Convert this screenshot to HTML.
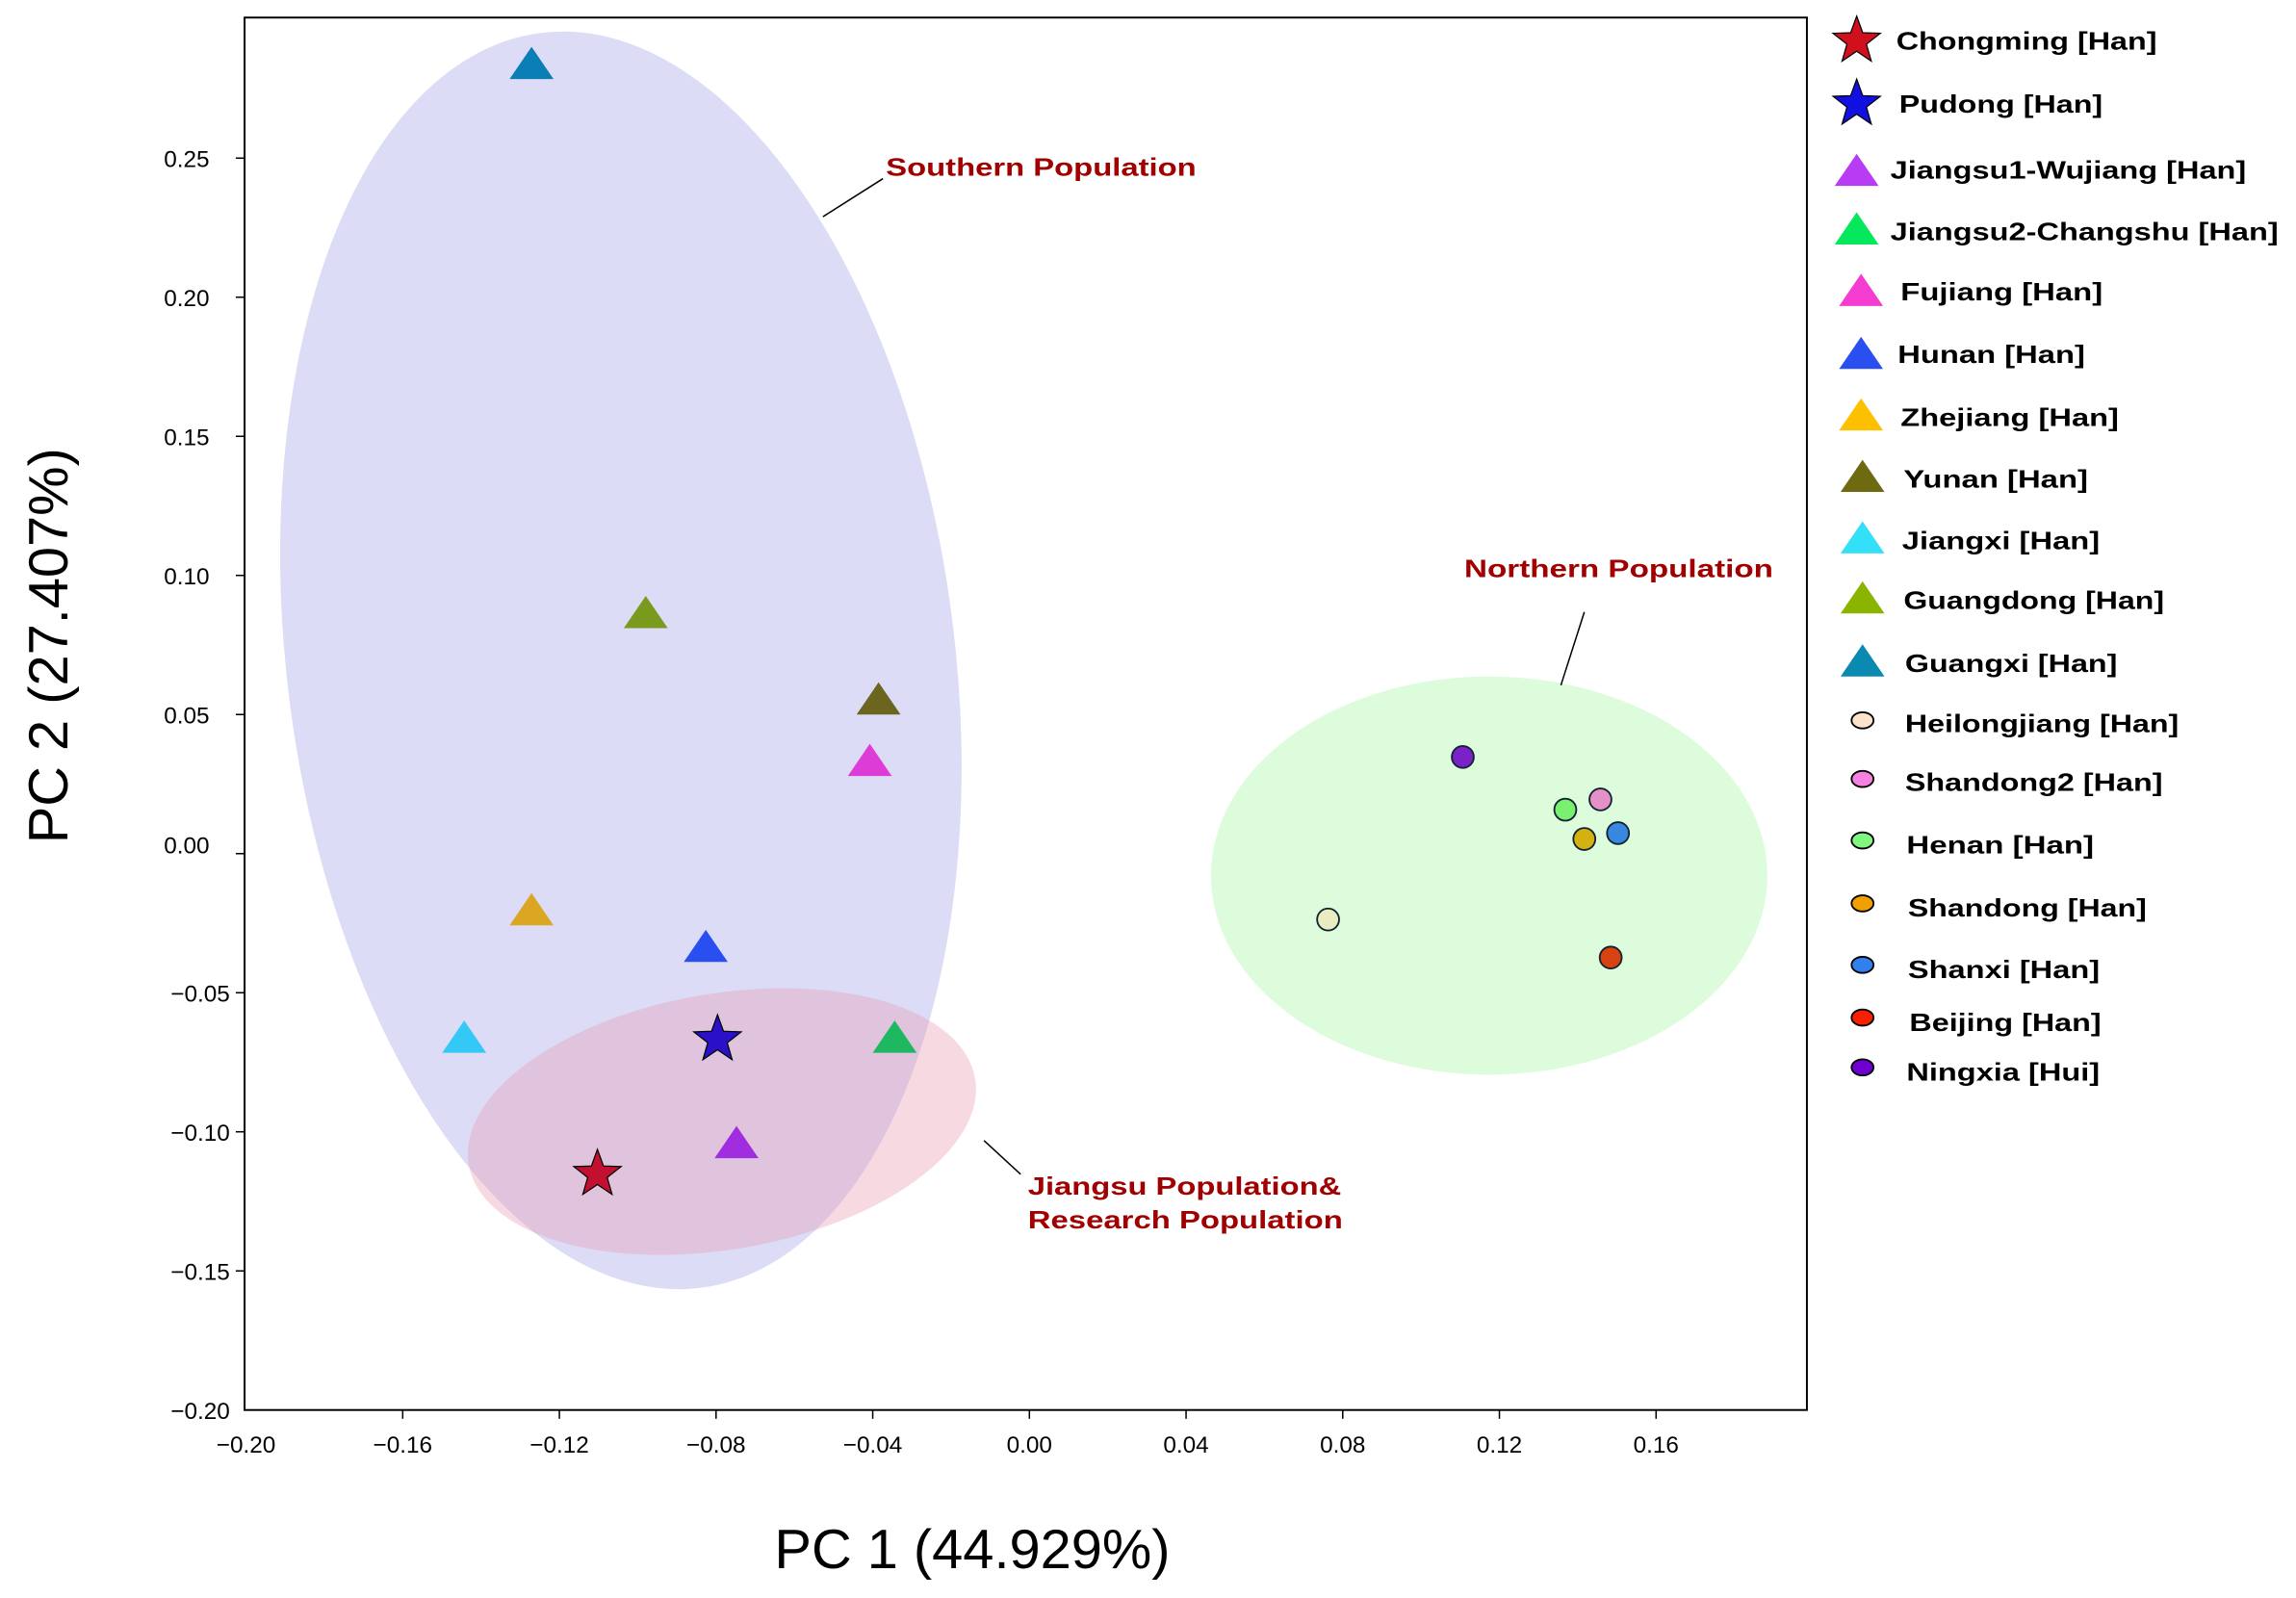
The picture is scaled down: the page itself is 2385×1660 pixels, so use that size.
<!DOCTYPE html>
<html><head><meta charset="utf-8"><style>
html,body{margin:0;padding:0;background:#fff}
svg{display:block}
text{font-family:"Liberation Sans",Arial,sans-serif}
.t{font-size:16px;fill:#000}
.lg{font-size:17px;font-weight:bold;fill:#000}
.an{font-size:17px;font-weight:bold;fill:#a00000}
</style></head><body>
<svg width="2385" height="1660" viewBox="0 0 1568 1091.4" xmlns="http://www.w3.org/2000/svg">
<defs>
<path id="star" d="M0,-17 L4.11,-5.66 16.17,-5.25 6.66,2.16 9.99,13.75 0,7 -9.99,13.75 -6.66,2.16 -16.17,-5.25 -4.11,-5.66 Z"/>
<path id="tri" d="M0,-11 L15,11 L-15,11 Z"/>
</defs>
<rect width="1568" height="1092" fill="#fff"/>
<ellipse cx="424" cy="451" rx="228" ry="432" transform="rotate(-7.3 424 451)" fill="#dcdcf7"/>
<ellipse cx="493" cy="766" rx="175.4" ry="87.4" transform="rotate(-9.65 493 766)" fill="rgb(232,150,170)" fill-opacity="0.35"/>
<ellipse cx="1017" cy="598" rx="190" ry="136" fill="#dcfcdc"/>
<rect x="167" y="12" width="1067" height="951" fill="none" stroke="#000" stroke-width="1.3"/>
<g stroke="#000" stroke-width="1">
<line x1="161" y1="108" x2="167" y2="108"/><line x1="161" y1="203" x2="167" y2="203"/>
<line x1="161" y1="298" x2="167" y2="298"/><line x1="161" y1="393" x2="167" y2="393"/>
<line x1="161" y1="488" x2="167" y2="488"/><line x1="161" y1="583" x2="167" y2="583"/>
<line x1="161" y1="678" x2="167" y2="678"/><line x1="161" y1="773" x2="167" y2="773"/>
<line x1="161" y1="868" x2="167" y2="868"/>
<line x1="275" y1="963" x2="275" y2="969"/><line x1="382" y1="963" x2="382" y2="969"/>
<line x1="489" y1="963" x2="489" y2="969"/><line x1="596" y1="963" x2="596" y2="969"/>
<line x1="703" y1="963" x2="703" y2="969"/><line x1="810" y1="963" x2="810" y2="969"/>
<line x1="917" y1="963" x2="917" y2="969"/><line x1="1024" y1="963" x2="1024" y2="969"/>
<line x1="1131" y1="963" x2="1131" y2="969"/>
</g>
<g class="t" text-anchor="end">
<text x="143" y="114">0.25</text><text x="143" y="209">0.20</text><text x="143" y="304">0.15</text>
<text x="143" y="399">0.10</text><text x="143" y="494">0.05</text><text x="143" y="583">0.00</text>
<text x="157" y="684">−0.05</text><text x="157" y="779">−0.10</text><text x="157" y="874">−0.15</text>
<text x="157" y="969">−0.20</text>
</g>
<g class="t" text-anchor="middle">
<text x="168" y="992">−0.20</text><text x="275" y="992">−0.16</text><text x="382" y="992">−0.12</text>
<text x="489" y="992">−0.08</text><text x="596" y="992">−0.04</text><text x="703" y="992">0.00</text>
<text x="810" y="992">0.04</text><text x="917" y="992">0.08</text><text x="1024" y="992">0.12</text>
<text x="1131" y="992">0.16</text>
</g>
<text x="664" y="1071" text-anchor="middle" font-size="38">PC 1 (44.929%)</text>
<text transform="translate(46 441) rotate(-90)" text-anchor="middle" font-size="38">PC 2 (27.407%)</text>
<g stroke="#000" stroke-width="1">
<line x1="562" y1="148" x2="603" y2="122"/>
<line x1="1082" y1="418" x2="1066" y2="468"/>
<line x1="672" y1="779" x2="697" y2="802"/>
</g>
<text class="an" x="605" y="120" textLength="212" lengthAdjust="spacingAndGlyphs">Southern Population</text>
<text class="an" x="1000" y="394" textLength="211" lengthAdjust="spacingAndGlyphs">Northern Population</text>
<text class="an" x="702" y="816" textLength="214" lengthAdjust="spacingAndGlyphs">Jiangsu Population&amp;</text>
<text class="an" x="702" y="839" textLength="215" lengthAdjust="spacingAndGlyphs">Research Population</text>
<use href="#tri" x="363" y="43" fill="#0a7fb5"/>
<use href="#tri" x="441" y="418" fill="#7a9a1e"/>
<use href="#tri" x="600" y="477" fill="#6b6520"/>
<use href="#tri" x="594" y="519" fill="#dd3dd6"/>
<use href="#tri" x="363" y="621" fill="#dba622"/>
<use href="#tri" x="482" y="646" fill="#2a4ff0"/>
<use href="#tri" x="317" y="708" fill="#33c8f5"/>
<use href="#tri" x="611" y="708" fill="#1db860"/>
<use href="#tri" x="503" y="780" fill="#a02ee0"/>
<use href="#star" x="490" y="710" fill="#2a11c8" stroke="#000" stroke-width="0.8"/>
<use href="#star" x="408" y="802" fill="#c2102f" stroke="#000" stroke-width="0.8"/>
<g stroke="#123" stroke-width="1.2">
<circle cx="999" cy="517" r="7.5" fill="#7b21c8"/>
<circle cx="1069" cy="553" r="7.5" fill="#78f070"/>
<circle cx="1093" cy="546" r="7.5" fill="#e690c8"/>
<circle cx="1105" cy="569" r="7.5" fill="#3888e0"/>
<circle cx="1082" cy="573" r="7.5" fill="#d4b010"/>
<circle cx="907" cy="628" r="7.5" fill="#e8ecc0"/>
<circle cx="1100" cy="654" r="7.5" fill="#d8420e"/>
</g>
<use href="#star" x="1268" y="28" fill="#d0101c" stroke="#000" stroke-width="0.8"/>
<use href="#star" x="1268" y="71" fill="#1010e0" stroke="#000" stroke-width="0.8"/>
<use href="#tri" x="1268" y="116" fill="#b83cf4"/>
<use href="#tri" x="1268" y="156" fill="#05e85c"/>
<use href="#tri" x="1271" y="198" fill="#f43cd0"/>
<use href="#tri" x="1271" y="241" fill="#2a4ff0"/>
<use href="#tri" x="1271" y="283" fill="#fcc000"/>
<use href="#tri" x="1272" y="325" fill="#6e6a10"/>
<use href="#tri" x="1272" y="367" fill="#33e0f8"/>
<use href="#tri" x="1272" y="408" fill="#8ab400"/>
<use href="#tri" x="1272" y="451" fill="#0a8ab0"/>
<g stroke="#000" stroke-width="1.2">
<ellipse cx="1272" cy="492" rx="7.5" ry="5.5" fill="#fde2cc"/>
<ellipse cx="1272" cy="532" rx="7.5" ry="5.5" fill="#f880e0"/>
<ellipse cx="1272" cy="574" rx="7.5" ry="5.5" fill="#80f880"/>
<ellipse cx="1272" cy="617" rx="7.5" ry="5.5" fill="#f0a000"/>
<ellipse cx="1272" cy="659" rx="7.5" ry="5.5" fill="#3080f0"/>
<ellipse cx="1272" cy="695" rx="7.5" ry="5.5" fill="#f82000"/>
<ellipse cx="1272" cy="729" rx="7.5" ry="5.5" fill="#7000d0"/>
</g>
<g class="lg">
<text x="1295" y="34" textLength="178" lengthAdjust="spacingAndGlyphs">Chongming [Han]</text>
<text x="1297" y="77" textLength="139" lengthAdjust="spacingAndGlyphs">Pudong [Han]</text>
<text x="1291" y="122" textLength="243" lengthAdjust="spacingAndGlyphs">Jiangsu1-Wujiang [Han]</text>
<text x="1291" y="164" textLength="265" lengthAdjust="spacingAndGlyphs">Jiangsu2-Changshu [Han]</text>
<text x="1298" y="205" textLength="138" lengthAdjust="spacingAndGlyphs">Fujiang [Han]</text>
<text x="1296" y="248" textLength="128" lengthAdjust="spacingAndGlyphs">Hunan [Han]</text>
<text x="1298" y="291" textLength="149" lengthAdjust="spacingAndGlyphs">Zhejiang [Han]</text>
<text x="1300" y="333" textLength="126" lengthAdjust="spacingAndGlyphs">Yunan [Han]</text>
<text x="1299" y="375" textLength="135" lengthAdjust="spacingAndGlyphs">Jiangxi [Han]</text>
<text x="1300" y="416" textLength="178" lengthAdjust="spacingAndGlyphs">Guangdong [Han]</text>
<text x="1301" y="459" textLength="145" lengthAdjust="spacingAndGlyphs">Guangxi [Han]</text>
<text x="1301" y="500" textLength="187" lengthAdjust="spacingAndGlyphs">Heilongjiang [Han]</text>
<text x="1301" y="540" textLength="176" lengthAdjust="spacingAndGlyphs">Shandong2 [Han]</text>
<text x="1302" y="583" textLength="128" lengthAdjust="spacingAndGlyphs">Henan [Han]</text>
<text x="1303" y="626" textLength="163" lengthAdjust="spacingAndGlyphs">Shandong [Han]</text>
<text x="1303" y="668" textLength="131" lengthAdjust="spacingAndGlyphs">Shanxi [Han]</text>
<text x="1304" y="704" textLength="131" lengthAdjust="spacingAndGlyphs">Beijing [Han]</text>
<text x="1302" y="738" textLength="132" lengthAdjust="spacingAndGlyphs">Ningxia [Hui]</text>
</g>
</svg>
</body></html>
